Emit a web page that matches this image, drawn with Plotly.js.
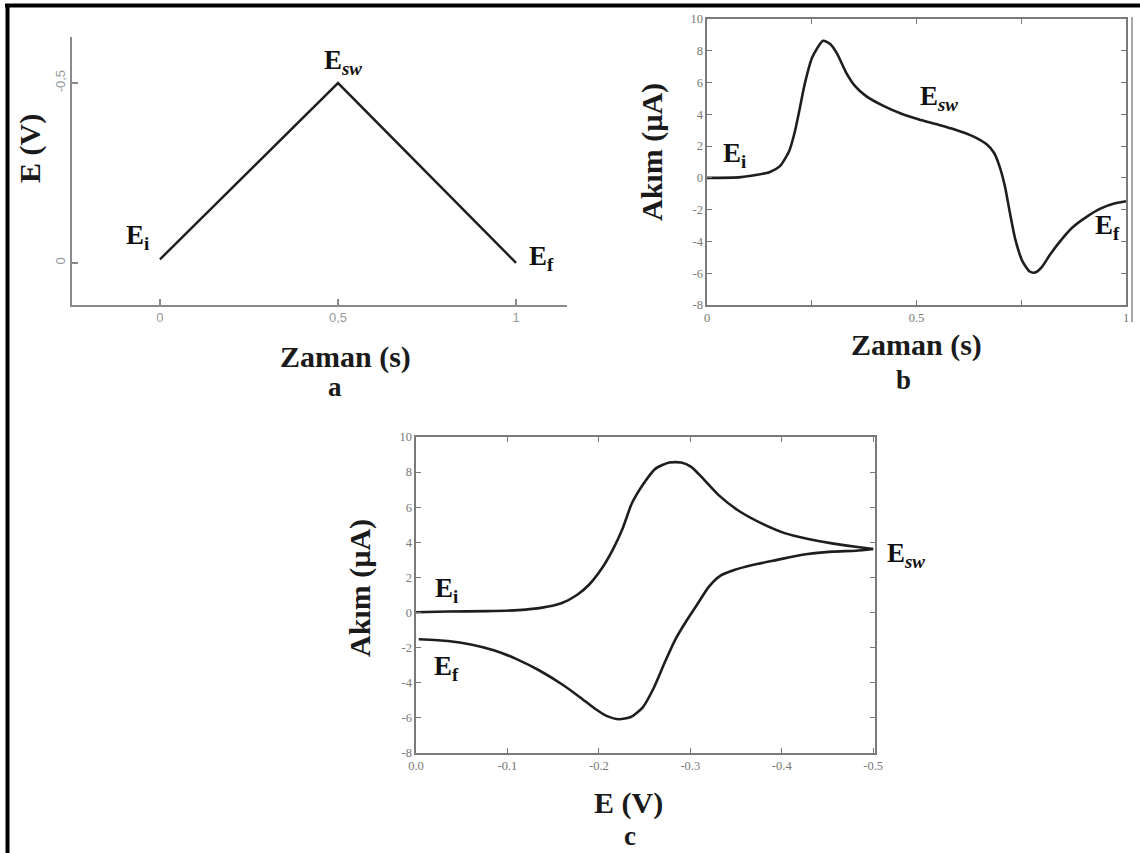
<!DOCTYPE html>
<html>
<head>
<meta charset="utf-8">
<script src="https://cdn.plot.ly/plotly-3.0.1.min.js"></script>
<style>
  html, body { margin: 0; padding: 0; background: #fff; }
  #chart { width: 1140px; height: 853px; }
</style>
</head>
<body>
<div id="chart"></div>
<script>
// ---------- Data ----------
// Panel a: applied potential vs time (triangular sweep)
const aTime = [0, 0.5, 1];
const aPotential = [-0.01, -0.5, 0];
const aXTickVals = [0, 0.5, 1];
const aXTickText = ["0", "0,5", "1"];
const aYTickVals = [0, -0.5];
const aYTickText = ["0", "-0,5"];

// Panel b: current vs time
const bTime = [0, 0.081, 0.149, 0.174, 0.196, 0.209, 0.221, 0.234, 0.251, 0.277, 0.294, 0.311, 0.332, 0.353, 0.379, 0.421, 0.464, 0.506, 0.549, 0.591, 0.634, 0.668, 0.685, 0.698, 0.711, 0.723, 0.736, 0.753, 0.770, 0.783, 0.800, 0.821, 0.847, 0.872, 0.906, 0.940, 0.974, 1.0];
const bCurrent = [0.0, 0.05, 0.36, 0.74, 1.68, 2.84, 4.32, 6.0, 7.58, 8.63, 8.42, 7.79, 6.63, 5.79, 5.16, 4.53, 4.04, 3.68, 3.37, 3.05, 2.63, 2.1, 1.58, 0.74, -0.53, -2.21, -3.89, -5.26, -5.89, -5.96, -5.58, -4.74, -3.85, -3.12, -2.45, -1.92, -1.6, -1.47];
const bXTickVals = [0, 0.25, 0.5, 0.75, 1];
const bXTickText = ["0", "", "0.5", "", "1"];
const bYTickVals = [10, 8, 6, 4, 2, 0, -2, -4, -6, -8];
const bYTickText = ["10", "8", "6", "4", "2", "0", "-2", "-4", "-6", "-8"];

// Panel c: cyclic voltammogram (current vs potential)
const cForwardE = [0, -0.035, -0.078, -0.112, -0.138, -0.159, -0.176, -0.189, -0.202, -0.215, -0.226, -0.236, -0.249, -0.262, -0.277, -0.290, -0.301, -0.314, -0.331, -0.352, -0.378, -0.404, -0.429, -0.455, -0.481, -0.5];
const cForwardI = [0.02, 0.06, 0.08, 0.14, 0.28, 0.53, 1.0, 1.57, 2.42, 3.56, 4.79, 6.21, 7.35, 8.2, 8.55, 8.55, 8.3, 7.63, 6.69, 5.83, 5.08, 4.51, 4.19, 3.94, 3.75, 3.62];
const cReverseE = [-0.5, -0.481, -0.455, -0.421, -0.395, -0.369, -0.348, -0.333, -0.320, -0.308, -0.296, -0.284, -0.272, -0.260, -0.248, -0.235, -0.222, -0.209, -0.195, -0.180, -0.160, -0.135, -0.110, -0.085, -0.060, -0.035, -0.003];
const cReverseI = [3.62, 3.52, 3.47, 3.28, 3.0, 2.72, 2.42, 2.1, 1.45, 0.5, -0.45, -1.5, -2.85, -4.3, -5.4, -5.95, -6.08, -5.9, -5.45, -4.85, -4.1, -3.3, -2.65, -2.15, -1.82, -1.62, -1.52];
const cXTickVals = [0, -0.1, -0.2, -0.3, -0.4, -0.5];
const cXTickText = ["0.0", "-0.1", "-0.2", "-0.3", "-0.4", "-0.5"];
const cYTickVals = [10, 8, 6, 4, 2, 0, -2, -4, -6, -8];
const cYTickText = ["10", "8", "6", "4", "2", "0", "-2", "-4", "-6", "-8"];

// Text labels
const axisTitleTime = "Zaman (s)";
const axisTitlePotential = "E (V)";
const axisTitleCurrent = "Akım (µA)";
const panelLetters = ["a", "b", "c"];
const labelEi = "E<sub>i</sub>";
const labelEf = "E<sub>f</sub>";
const labelEsw = "E<sub><i>sw</i></sub>";

// ---------- Layout helpers ----------
const W = 1140, H = 853;
const px = v => v / W;
const py = v => 1 - v / H;

const lineStyle = { color: "#1e1e1e", width: 2.6, shape: "spline", smoothing: 0.6 };
const serif = "Liberation Serif, Times New Roman, serif";
const sans = "Liberation Sans, Arial, sans-serif";
const titleFont = { family: serif, size: 30, color: "#1a1a1a" };
const letterFont = { family: serif, size: 27, color: "#1a1a1a" };
const labelFont = { family: serif, size: 27, color: "#111" };

const traces = [
  { x: aTime, y: aPotential, xaxis: "x", yaxis: "y", mode: "lines", line: { color: "#1e1e1e", width: 2.4 }, hoverinfo: "skip" },
  { x: bTime, y: bCurrent, xaxis: "x2", yaxis: "y2", mode: "lines", line: lineStyle, hoverinfo: "skip" },
  { x: cForwardE, y: cForwardI, xaxis: "x3", yaxis: "y3", mode: "lines", line: lineStyle, hoverinfo: "skip" },
  { x: cReverseE, y: cReverseI, xaxis: "x3", yaxis: "y3", mode: "lines", line: lineStyle, hoverinfo: "skip" }
];

const boxAxis = {
  showline: true, linecolor: "#7a7a7a", linewidth: 1.6, mirror: "ticks",
  ticks: "inside", ticklen: 5, tickcolor: "#7a7a7a", tickwidth: 1.2,
  showgrid: false, zeroline: false, fixedrange: true,
  tickfont: { family: serif, size: 12.5, color: "#777" }, tickmode: "array"
};

const layout = {
  width: W, height: H,
  margin: { l: 0, r: 0, t: 0, b: 0 },
  paper_bgcolor: "#fff", plot_bgcolor: "rgba(0,0,0,0)",
  showlegend: false,
  // Panel a
  xaxis: {
    domain: [px(72), px(567)], anchor: "y", range: [-0.247, 1.143],
    showline: true, linecolor: "#8a8a8a", linewidth: 1.6, mirror: false,
    ticks: "inside", ticklen: 6, tickcolor: "#8a8a8a", tickwidth: 1.2,
    showgrid: false, zeroline: false, fixedrange: true,
    tickmode: "array", tickvals: aXTickVals, ticktext: aXTickText,
    tickfont: { family: sans, size: 13, color: "#999" }
  },
  yaxis: {
    domain: [py(305), py(37)], anchor: "x", range: [0.117, -0.628],
    showline: true, linecolor: "#8a8a8a", linewidth: 1.6, mirror: false,
    ticks: "inside", ticklen: 6, tickcolor: "#8a8a8a", tickwidth: 1.2,
    showgrid: false, zeroline: false, fixedrange: true,
    tickmode: "array", tickvals: aYTickVals, ticktext: aYTickText, tickangle: -90,
    tickfont: { family: sans, size: 13, color: "#999" }
  },
  // Panel b
  xaxis2: Object.assign({}, boxAxis, {
    domain: [px(707), px(1126)], anchor: "y2", range: [0, 1],
    tickvals: bXTickVals, ticktext: bXTickText
  }),
  yaxis2: Object.assign({}, boxAxis, {
    domain: [py(305), py(19)], anchor: "x2", range: [-8, 10],
    tickvals: bYTickVals, ticktext: bYTickText
  }),
  // Panel c
  xaxis3: Object.assign({}, boxAxis, {
    domain: [px(416), px(875)], anchor: "y3", range: [0, -0.502],
    tickvals: cXTickVals, ticktext: cXTickText
  }),
  yaxis3: Object.assign({}, boxAxis, {
    domain: [py(753), py(437)], anchor: "x3", range: [-8, 10],
    tickvals: cYTickVals, ticktext: cYTickText
  }),
  shapes: [
    // outer black frame (top and left)
    { type: "line", xref: "paper", yref: "paper", x0: px(5), x1: 1, y0: py(5.5), y1: py(5.5), line: { color: "#000", width: 4 } },
    { type: "line", xref: "paper", yref: "paper", x0: px(7.5), x1: px(7.5), y0: py(4), y1: 0, line: { color: "#000", width: 4 } },
    // cropped edge line at right of panel b
    { type: "line", xref: "paper", yref: "paper", x0: px(1132), x1: px(1132), y0: py(17), y1: py(322), line: { color: "#888", width: 1.5 } }
  ],
  annotations: []
};

function note(text, x, y, font, angle) {
  layout.annotations.push({
    text: text, xref: "paper", yref: "paper", x: px(x), y: py(y),
    xanchor: "center", yanchor: "middle", showarrow: false,
    font: font, textangle: angle || 0
  });
}

// Panel a texts
note("<b>" + axisTitleTime + "</b>", 345, 357, titleFont);
note("<b>" + panelLetters[0] + "</b>", 335, 387, letterFont);
note("<b>" + axisTitlePotential + "</b>", 30, 149, titleFont, -90);
note("<b>" + labelEi + "</b>", 137, 237, labelFont);
note("<b>" + labelEsw + "</b>", 343, 62, labelFont);
note("<b>" + labelEf + "</b>", 541, 258, labelFont);

// Panel b texts
note("<b>" + axisTitleTime + "</b>", 916, 345, titleFont);
note("<b>" + panelLetters[1] + "</b>", 903, 380, letterFont);
note("<b>" + axisTitleCurrent + "</b>", 652, 152, titleFont, -90);
note("<b>" + labelEi + "</b>", 734, 155, labelFont);
note("<b>" + labelEsw + "</b>", 939, 98, labelFont);
note("<b>" + labelEf + "</b>", 1107, 227, labelFont);

// Panel c texts
note("<b>" + axisTitlePotential + "</b>", 628, 803, titleFont);
note("<b>" + panelLetters[2] + "</b>", 630, 836, letterFont);
note("<b>" + axisTitleCurrent + "</b>", 360, 588, titleFont, -90);
note("<b>" + labelEi + "</b>", 446, 590, labelFont);
note("<b>" + labelEf + "</b>", 446, 668, labelFont);
note("<b>" + labelEsw + "</b>", 906, 555, labelFont);

Plotly.newPlot("chart", traces, layout, { staticPlot: true, displayModeBar: false });
</script>
</body>
</html>
